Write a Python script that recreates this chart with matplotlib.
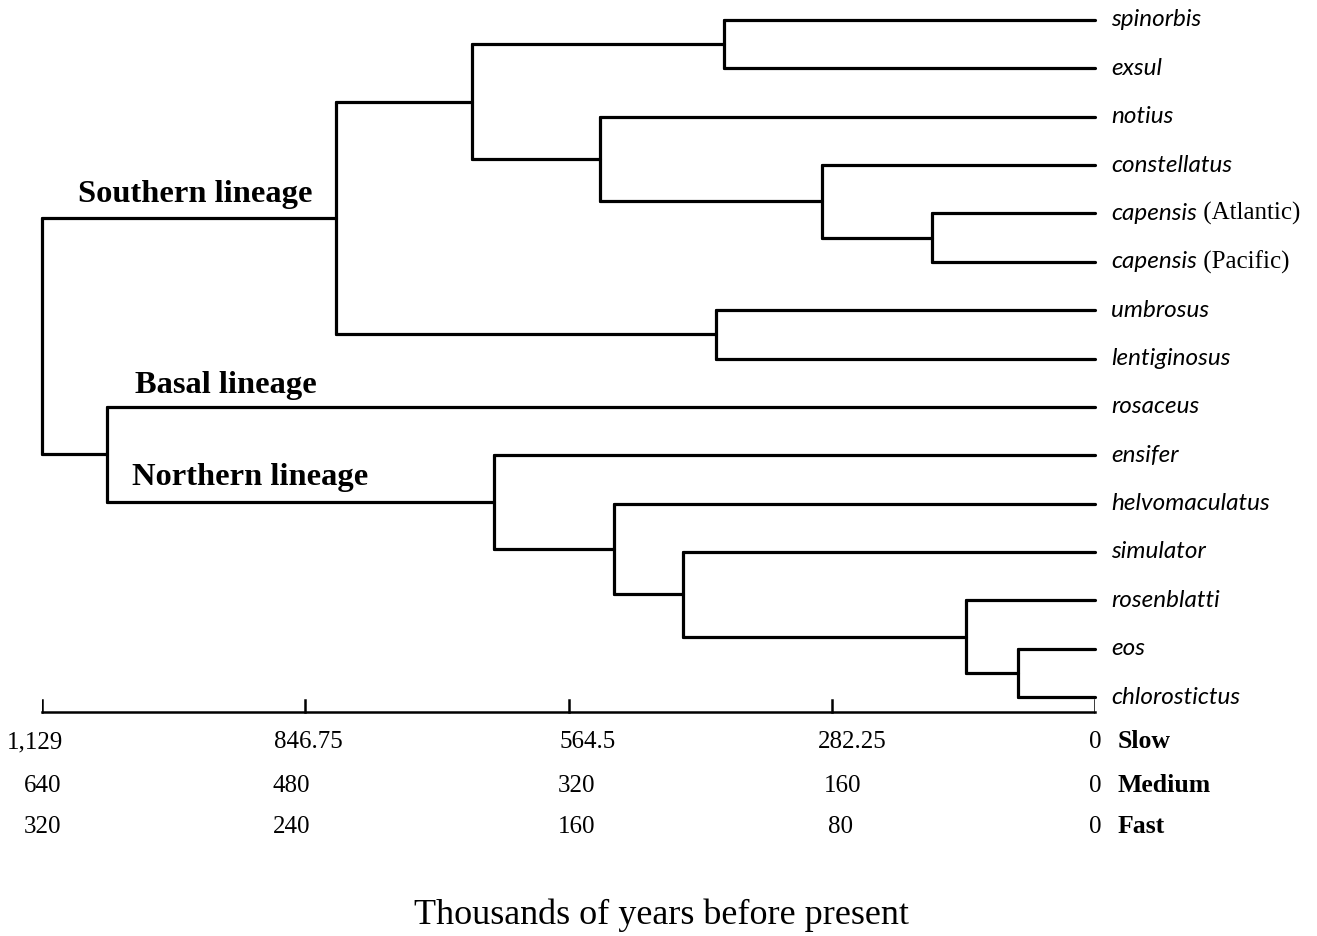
import matplotlib
matplotlib.use("Agg")
import matplotlib.pyplot as plt

# ---------------- data ----------------
leaves = ["spinorbis", "exsul", "notius", "constellatus", "capensis", "capensis",
          "umbrosus", "lentiginosus", "rosaceus", "ensifer", "helvomaculatus",
          "simulator", "rosenblatti", "eos", "chlorostictus"]
leaf_suffix = ["", "", "", "", " (Atlantic)", " (Pacific)", "", "", "", "", "", "", "", "", ""]

# clades: (child A, child B, age in thousands of years); children are leaf indices or clade names
clades = {
    "spin_exsul": (0, 1, 398),
    "capensis": (4, 5, 175),
    "const_cap": (3, "capensis", 293),
    "notius_grp": (2, "const_cap", 531),
    "southern_a": ("spin_exsul", "notius_grp", 668),
    "umb_lent": (6, 7, 406),
    "southern": ("southern_a", "umb_lent", 814),
    "eos_chlor": (13, 14, 83),
    "rosen_grp": (12, "eos_chlor", 138),
    "sim_grp": (11, "rosen_grp", 442),
    "helvo_grp": (10, "sim_grp", 516),
    "northern": (9, "helvo_grp", 644),
    "basal_north": (8, "northern", 1059),
    "root": ("southern", "basal_north", 1129),
}

tick_values = [1129, 846.75, 564.5, 282.25, 0]
rate_rows = ["Slow", "Medium", "Fast"]
tick_labels = [["1,129", "846.75", "564.5", "282.25", "0"],
               ["640", "480", "320", "160", "0"],
               ["320", "240", "160", "80", "0"]]

# ---------------- figure ----------------
W, H = 1317, 936
fig = plt.figure(figsize=(W / 100, H / 100), dpi=100)
px0, px1 = 42, 1095
step = 48.36
ax = fig.add_axes([px0 / W, 0, (px1 - px0) / W, 1])
ax.set_xlim(1129, 0)
ax.set_ylim((H - 20) / step, -20 / step)
ax.axis("off")

LW = 2.3
serif = "Liberation Serif"


def node_y(n):
    if isinstance(n, int):
        return float(n)
    a, b, _ = clades[n]
    return (node_y(a) + node_y(b)) / 2


def node_x(n):
    if isinstance(n, int):
        return 0.0
    return clades[n][2]


for name, (a, b, age) in clades.items():
    ya, yb = node_y(a), node_y(b)
    ax.plot([age, age], [ya, yb], color="black", lw=LW, solid_capstyle="round",
            solid_joinstyle="round", clip_on=False)
    for c, yc in ((a, ya), (b, yb)):
        ax.plot([age, node_x(c)], [yc, yc], color="black", lw=LW,
                solid_capstyle="round", clip_on=False)

# leaf labels
fig.canvas.draw()
renderer = fig.canvas.get_renderer()
label_x = -17
for i, (nm, suf) in enumerate(zip(leaves, leaf_suffix)):
    t = ax.text(label_x, i, nm, fontsize=17.5, style="italic", family="Lato",
                va="center", ha="left", clip_on=False)
    if suf:
        bb = t.get_window_extent(renderer)
        xe = ax.transData.inverted().transform((bb.x1, 0))[0]
        ax.text(xe, i, suf, fontsize=18, family=serif, va="center", ha="left")

# lineage labels
lineage = [("Southern lineage", 965, 3.60), ("Basal lineage", 932, 7.55),
           ("Northern lineage", 906, 9.47)]
for txt, x, y in lineage:
    ax.text(x, y, txt, fontsize=23.4, fontweight="bold", family=serif,
            ha="center", va="center")

# time axis
axis_y = (712 - 20) / step
tick_len = 12 / step
ax.plot([tick_values[0], tick_values[-1]], [axis_y, axis_y], color="black", lw=1.8,
        clip_on=False)
for tv in tick_values:
    ax.plot([tv, tv], [axis_y, axis_y - tick_len], color="black", lw=1.8)

row_y = [(742 - 20) / step, (786 - 20) / step, (827 - 20) / step]
label_offsets = [[7, -3, -20, -22, 0],
                 [-1, 15, -9, -12, 0],
                 [-1, 15, -9, -9, 0]]
for r, (labels, offs) in enumerate(zip(tick_labels, label_offsets)):
    for tv, lab, off in zip(tick_values, labels, offs):
        ax.text(tv + off, row_y[r], lab, fontsize=18, family=serif,
                ha="center", va="center")
    ax.text(-24, row_y[r], rate_rows[r], fontsize=18.5, fontweight="bold",
            family=serif, ha="left", va="center")

ax.text(465, (915 - 20) / step, "Thousands of years before present", fontsize=26,
        family=serif, ha="center", va="center")

fig.savefig("out.png", dpi=100)
